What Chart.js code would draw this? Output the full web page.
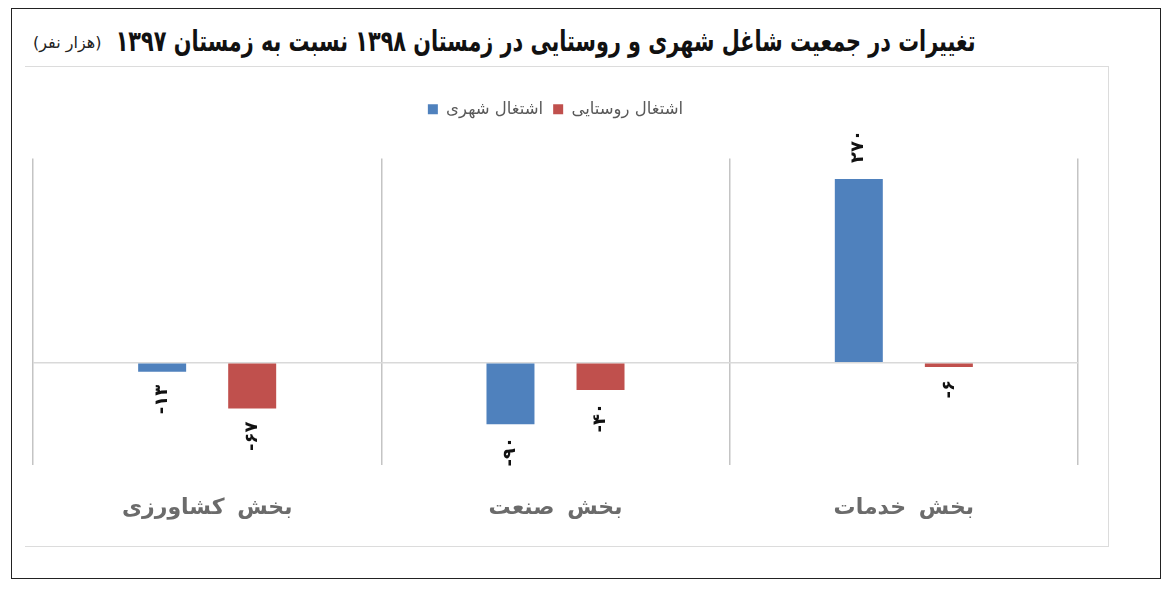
<!DOCTYPE html>
<html lang="fa">
<head>
<meta charset="UTF-8">
<title>تغییرات در جمعیت شاغل شهری و روستایی</title>
<script src="https://cdn.jsdelivr.net/npm/chart.js"></script>
<style>
    body {
        margin: 0;
        background: #fff;
        font-family: "DejaVu Sans", sans-serif;
        width: 1172px;
        height: 592px;
        position: relative;
        overflow: hidden;
    }
    .frame {
        position: absolute;
        left: 11px; top: 8px;
        width: 1148px; height: 569px;
        border: 1.5px solid #222;
    }
    .title {
        position: absolute;
        right: 196px; top: 24px;
        direction: rtl;
        white-space: nowrap;
        font-weight: bold;
        font-size: 29px;
        color: #111;
        transform-origin: right center;
    }
    .unit {
        position: absolute;
        left: 33px; top: 33px;
        direction: rtl;
        white-space: nowrap;
        font-size: 16px;
        color: #222;
    }
    .box {
        position: absolute;
        left: 25px; top: 66px;
        width: 1083px; height: 479px;
        border-top: 1.5px solid #dcdcdc;
        border-right: 1.5px solid #dcdcdc;
        border-bottom: 1.5px solid #dcdcdc;
    }
    #grafico {
        position: absolute;
        left: 25px; top: 67px;
    }
</style>
</head>
<body>
    <div class="frame"></div>
    <div class="title" id="titulo">تغییرات در جمعیت شاغل شهری و روستایی در زمستان ۱۳۹۸ نسبت به زمستان ۱۳۹۷</div>
    <div class="unit">(هزار نفر)</div>
    <div class="box"></div>
    <canvas id="grafico" width="1083" height="478"></canvas>

<script>
    // datos (miles de personas)
    const categorias = ['بخش کشاورزی', 'بخش صنعت', 'بخش خدمات'];
    const nombresSeries = ['اشتغال شهری', 'اشتغال روستایی'];
    const shahri = [-13, -90, 270];
    const rustai = [-67, -40, -6];
    const colores = ['#4f81bd', '#c0504d'];

    // comprimir el título al ancho del original (~860px), fuente condensada
    const titulo = document.getElementById('titulo');
    const anchoObjetivo = 860;
    const anchoReal = titulo.getBoundingClientRect().width;
    titulo.style.transform = 'scaleX(' + (anchoObjetivo / anchoReal) + ')';

    const digitosFa = '۰۱۲۳۴۵۶۷۸۹';
    function aPersa(n) {
        const s = String(Math.abs(n)).replace(/[0-9]/g, d => digitosFa[d]);
        return (n < 0 ? '-' : '') + s;
    }

    // etiquetas de valor giradas
    const etiquetas = {
        id: 'etiquetas',
        afterDatasetsDraw(chart) {
            const ctx = chart.ctx;
            ctx.save();
            ctx.font = 'bold 18px "DejaVu Sans", sans-serif';
            ctx.fillStyle = '#111';
            ctx.textBaseline = 'middle';
            chart.data.datasets.forEach((ds, i) => {
                chart.getDatasetMeta(i).data.forEach((bar, j) => {
                    const v = ds.data[j];
                    ctx.save();
                    if (v >= 0) {
                        ctx.translate(bar.x, bar.y - 16);
                        ctx.rotate(-Math.PI / 2);
                        ctx.textAlign = 'left';
                    } else {
                        ctx.translate(bar.x, bar.y + 13);
                        ctx.rotate(-Math.PI / 2);
                        ctx.textAlign = 'right';
                    }
                    ctx.fillText(aPersa(v), 0, 0);
                    ctx.restore();
                });
            });
            ctx.restore();
        }
    };

    // espacio extra debajo de la leyenda y letras espaciadas en el eje x
    const ajustes = {
        id: 'ajustes',
        beforeInit(chart) {
            const fitOriginal = chart.legend.fit;
            chart.legend.fit = function () {
                fitOriginal.bind(chart.legend)();
                this.height += 31;
            };
        },
        afterUpdate(chart) {
            const sx = chart.scales.x;
            if (sx && !sx._espaciado) {
                const orig = sx.drawLabels.bind(sx);
                sx.drawLabels = function (area) {
                    chart.ctx.save();
                    chart.ctx.letterSpacing = '5px';
                    orig(area);
                    chart.ctx.restore();
                };
                sx._espaciado = true;
            }
        }
    };

    const ctx = document.getElementById('grafico').getContext('2d');
    new Chart(ctx, {
        type: 'bar',
        data: {
            labels: categorias,
            datasets: [{
                label: nombresSeries[0],
                data: shahri,
                backgroundColor: colores[0],
                categoryPercentage: 0.517,
                barPercentage: 0.533
            }, {
                label: nombresSeries[1],
                data: rustai,
                backgroundColor: colores[1],
                categoryPercentage: 0.517,
                barPercentage: 0.533
            }]
        },
        plugins: [etiquetas, ajustes],
        options: {
            responsive: false,
            animation: false,
            layout: {
                padding: { left: 8, right: 30, top: 24, bottom: 0 }
            },
            scales: {
                x: {
                    afterFit: s => { s.height = 80; },
                    grid: {
                        offset: true,
                        color: '#c4c4c4',
                        lineWidth: 1.5,
                        drawTicks: false
                    },
                    border: { display: false },
                    ticks: {
                        padding: 30,
                        color: '#6b6b6b',
                        font: { family: '"DejaVu Sans", sans-serif', size: 22, weight: 'bold' }
                    }
                },
                y: {
                    min: -150,
                    max: 300,
                    ticks: { display: false, stepSize: 50 },
                    border: { display: false },
                    grid: {
                        drawTicks: false,
                        color: c => c.tick && c.tick.value === 0 ? '#d9d9d9' : 'rgba(0,0,0,0)',
                        lineWidth: 1.5
                    }
                }
            },
            plugins: {
                legend: {
                    labels: {
                        boxWidth: 10,
                        boxHeight: 10,
                        padding: 10,
                        color: '#595959',
                        font: { family: '"DejaVu Sans", sans-serif', size: 16.5 }
                    }
                },
                tooltip: { enabled: false }
            }
        }
    });
</script>
</body>
</html>
